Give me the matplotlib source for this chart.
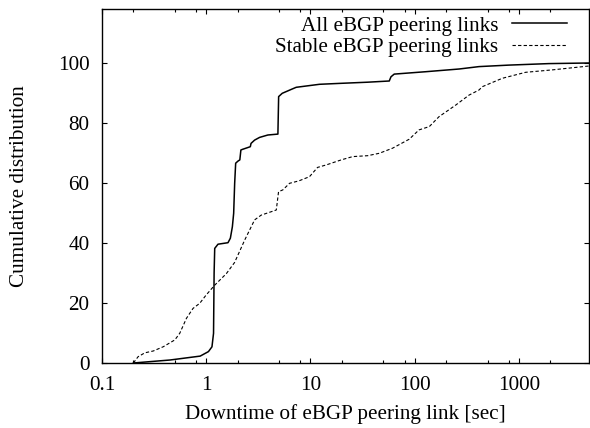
import numpy as np
import matplotlib
matplotlib.use("Agg")
import matplotlib.pyplot as plt
from matplotlib.ticker import FixedLocator, NullFormatter

plt.rcParams['font.family'] = ['Liberation Serif', 'DejaVu Serif']
plt.rcParams['font.size'] = 15.2

# CDF of eBGP peering link downtime
all_x = [0.2, 0.45, 0.875, 1.05, 1.135, 1.175, 1.19, 1.206, 1.297, 1.617, 1.704,
         1.781, 1.833, 1.874, 1.916, 2.016, 2.10, 2.15, 2.221, 2.648, 2.69, 2.911,
         3.25, 3.90, 4.87, 4.95, 5.36, 6.06, 6.54, 7.30, 12.2, 18.9, 35.3, 57,
         59.2, 63.6, 128, 267, 414, 802, 1936, 4700]
all_y = [0, 1.0, 2.3, 3.8, 5.4, 9.9, 30, 38.2, 39.6, 40.1, 41.6,
         45.4, 49.9, 59.9, 66.6, 67.3, 67.7, 71.0, 71.2, 72.1, 73.2, 74.3,
         75.2, 76.0, 76.3, 88.8, 89.9, 90.7, 91.2, 91.9, 92.9, 93.2, 93.6, 94.0,
         95.4, 96.3, 97.1, 98.0, 98.8, 99.3, 99.8, 100]

stable_x = [0.2, 0.222, 0.258, 0.31, 0.386, 0.5, 0.557, 0.646, 0.747, 0.866, 1.0,
            1.21, 1.56, 1.87, 2.34, 2.91, 3.37, 4.70, 4.94, 5.43, 6.30, 7.73,
            9.78, 11.7, 14.1, 19.7, 25.4, 35.3, 45.7, 61.3, 88.6, 110, 138, 171,
            248, 332, 414, 445, 692, 1159, 2084, 4700]
stable_y = [0, 2.1, 3.4, 4.0, 5.4, 7.7, 9.9, 14.9, 18.2, 19.9, 22.7,
            26.0, 29.8, 33.5, 41.0, 47.7, 49.3, 51.0, 57.1, 57.7, 59.9, 60.7,
            62.1, 65.2, 66.0, 67.7, 68.8, 69.1, 69.9, 71.6, 74.6, 77.7, 78.8, 82.1,
            86.0, 89.3, 91.0, 92.1, 94.9, 96.9, 97.7, 99.0]

xticks = [0.1, 1, 10, 100, 1000]
xticklabels = ['0.1', '1', '10', '100', '1000']
yticks = [0, 20, 40, 60, 80, 100]

fig = plt.figure(figsize=(5.9, 4.28), dpi=100)
ax = fig.add_axes([102/590, 65/428, 487/590, 354/428])

ax.plot(all_x, all_y, color='black', lw=1.1, label='All eBGP peering links')
ax.plot(stable_x, stable_y, color='black', lw=0.8, dashes=(3, 2),
        label='Stable eBGP peering links')

ax.set_xscale('log')
ax.set_xlim(0.1, 4700)
ax.set_ylim(0, 118)
ax.set_xticks(xticks)
ax.set_xticklabels(xticklabels)
minors = [m * d for d in [0.1, 1, 10, 100, 1000] for m in (2, 5, 8)]
ax.xaxis.set_minor_locator(FixedLocator(minors))
ax.xaxis.set_minor_formatter(NullFormatter())
ax.set_yticks(yticks)

ax.tick_params(which='both', direction='in', top=True, right=True, width=0.8)
ax.tick_params(which='major', length=3.6, pad=9)
ax.tick_params(which='minor', length=2.2)
for s in ax.spines.values():
    s.set_linewidth(1.0)

ax.set_xlabel('Downtime of eBGP peering link [sec]', labelpad=7)
ax.set_ylabel('Cumulative distribution', labelpad=21)

ax.legend(loc='upper right', bbox_to_anchor=(567/590, 1 - 16/428),
          bbox_transform=fig.transFigure, frameon=False, markerfirst=False,
          handlelength=2.6, handletextpad=0.65, borderpad=0, borderaxespad=0,
          labelspacing=0.08)

fig.savefig('out.png', dpi=100)
